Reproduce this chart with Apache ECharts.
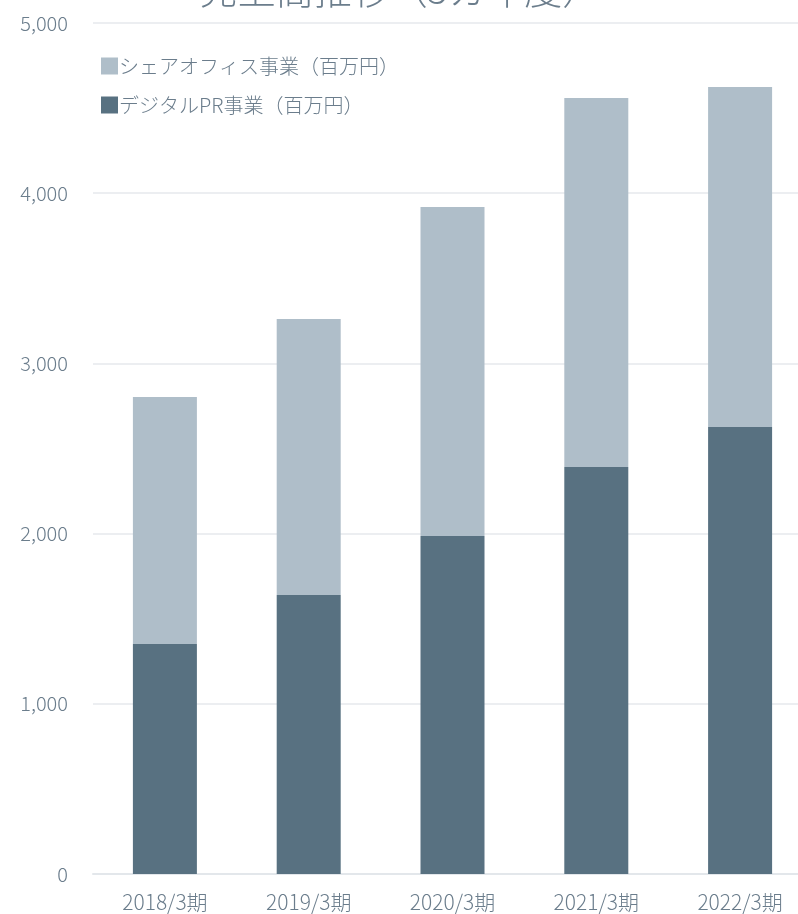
<!DOCTYPE html>
<html>
<head>
<meta charset="utf-8">
<script src="https://cdn.jsdelivr.net/npm/echarts@6/dist/echarts.min.js"></script>
<style>
  html, body { margin: 0; padding: 0; background: #fff; overflow: hidden; }
  #chart { width: 812px; height: 914px; }
</style>
</head>
<body>
<div id="chart"></div>
<script>
const categories = ['2018/3期', '2019/3期', '2020/3期', '2021/3期', '2022/3期'];
const digitalPR = [1351, 1639, 1986, 2391, 2626];
const shareOffice = [1452, 1622, 1933, 2168, 1998];
const yTicks = [0, 1000, 2000, 3000, 4000, 5000];

const textColor = '#6b7d8c';
const font = '"Noto Sans CJK JP", "Noto Sans", sans-serif';

// plot runs past the right edge of the window, as in the original
const chart = echarts.init(document.getElementById('chart'));
chart.setOption({
  animation: false,
  title: {
    text: '売上高推移（5カ年度）',
    left: 395,
    textAlign: 'center',
    top: -34,
    textStyle: { color: textColor, fontSize: 38, fontWeight: 300, fontFamily: font }
  },
  legend: {
    orient: 'vertical',
    left: 96,
    top: 51,
    itemGap: 19,
    itemWidth: 17,
    itemHeight: 17,
    icon: 'rect',
    data: ['シェアオフィス事業（百万円）', 'デジタルPR事業（百万円）'],
    textStyle: { color: textColor, fontSize: 20, fontWeight: 300, fontFamily: font, padding: [0, 0, 0, -4] }
  },
  grid: { left: 93, right: 0, top: 23, bottom: 40, containLabel: false },
  xAxis: {
    type: 'category',
    data: categories,
    axisLine: { lineStyle: { color: '#e3e7eb', width: 2 } },
    axisTick: { show: false },
    axisLabel: { color: textColor, fontSize: 21, fontWeight: 300, fontFamily: font, margin: 18 }
  },
  yAxis: {
    type: 'value',
    min: yTicks[0],
    max: yTicks[yTicks.length - 1],
    interval: 1000,
    axisLine: { show: false },
    axisTick: { show: false },
    splitLine: { lineStyle: { color: '#e6e9ed', width: 1.5 } },
    axisLabel: {
      color: textColor, fontSize: 20, fontWeight: 300, fontFamily: font, margin: 25,
      formatter: v => v.toLocaleString('en-US')
    }
  },
  series: [
    {
      name: 'デジタルPR事業（百万円）', type: 'bar', stack: 'total',
      barWidth: 64, data: digitalPR, itemStyle: { color: '#587181' }
    },
    {
      name: 'シェアオフィス事業（百万円）', type: 'bar', stack: 'total',
      barWidth: 64, data: shareOffice, itemStyle: { color: '#afbec9' }
    }
  ]
});
</script>
</body>
</html>
